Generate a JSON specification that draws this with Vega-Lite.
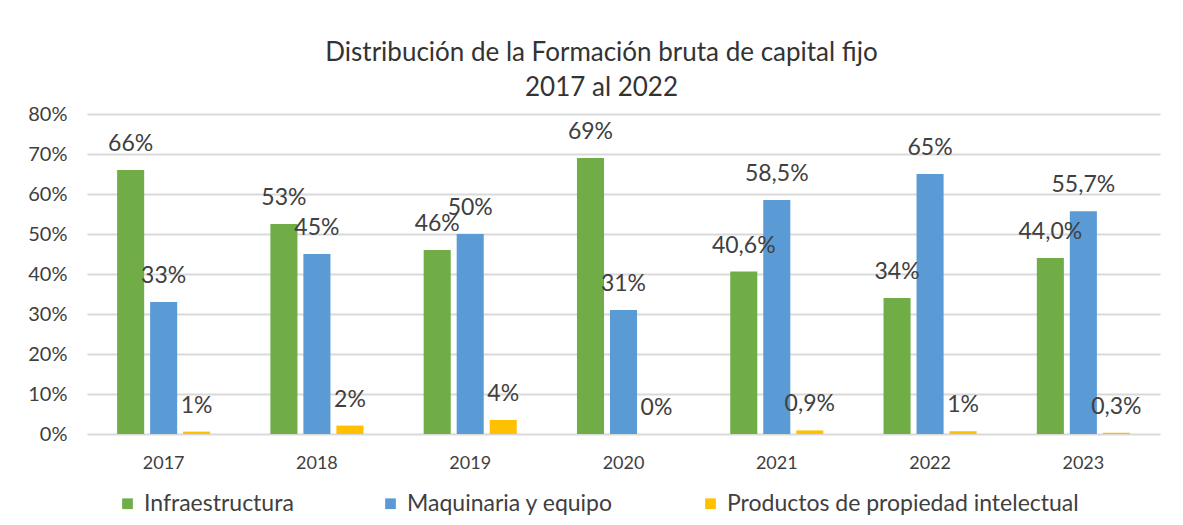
{
  "$schema": "https://vega.github.io/schema/vega-lite/v6.json",
  "width": 1073,
  "height": 320,
  "autosize": "none",
  "padding": {"left": 87, "top": 114, "right": 23, "bottom": 91},
  "background": "white",
  "title": {
    "text": ["Distribución de la Formación bruta de capital fijo", "2017 al 2022"],
    "fontSize": 26,
    "font": "Lato",
    "fontWeight": "normal",
    "color": "#333333",
    "lineHeight": 35,
    "offset": 3,
    "dx": -22
  },
  "data": {
    "values": [
      {"year": "2017", "tipo": "Infraestructura", "valor": 0.66, "label": "66%"},
      {"year": "2017", "tipo": "Maquinaria y equipo", "valor": 0.33, "label": "33%"},
      {"year": "2017", "tipo": "Productos de propiedad intelectual", "valor": 0.006, "label": "1%"},
      {"year": "2018", "tipo": "Infraestructura", "valor": 0.525, "label": "53%"},
      {"year": "2018", "tipo": "Maquinaria y equipo", "valor": 0.45, "label": "45%"},
      {"year": "2018", "tipo": "Productos de propiedad intelectual", "valor": 0.021, "label": "2%"},
      {"year": "2019", "tipo": "Infraestructura", "valor": 0.46, "label": "46%"},
      {"year": "2019", "tipo": "Maquinaria y equipo", "valor": 0.50, "label": "50%"},
      {"year": "2019", "tipo": "Productos de propiedad intelectual", "valor": 0.035, "label": "4%"},
      {"year": "2020", "tipo": "Infraestructura", "valor": 0.69, "label": "69%"},
      {"year": "2020", "tipo": "Maquinaria y equipo", "valor": 0.31, "label": "31%"},
      {"year": "2020", "tipo": "Productos de propiedad intelectual", "valor": 0.0, "label": "0%"},
      {"year": "2021", "tipo": "Infraestructura", "valor": 0.406, "label": "40,6%"},
      {"year": "2021", "tipo": "Maquinaria y equipo", "valor": 0.585, "label": "58,5%"},
      {"year": "2021", "tipo": "Productos de propiedad intelectual", "valor": 0.009, "label": "0,9%"},
      {"year": "2022", "tipo": "Infraestructura", "valor": 0.34, "label": "34%"},
      {"year": "2022", "tipo": "Maquinaria y equipo", "valor": 0.65, "label": "65%"},
      {"year": "2022", "tipo": "Productos de propiedad intelectual", "valor": 0.007, "label": "1%"},
      {"year": "2023", "tipo": "Infraestructura", "valor": 0.44, "label": "44,0%"},
      {"year": "2023", "tipo": "Maquinaria y equipo", "valor": 0.557, "label": "55,7%"},
      {"year": "2023", "tipo": "Productos de propiedad intelectual", "valor": 0.003, "label": "0,3%"}
    ]
  },
  "encoding": {
    "x": {
      "field": "year",
      "type": "nominal",
      "scale": {"paddingInner": 0.354, "paddingOuter": 0.177},
      "axis": {
        "title": null,
        "labelAngle": 0,
        "ticks": false,
        "domain": false,
        "labelFontSize": 18,
        "labelFont": "Lato",
        "labelColor": "#404040",
        "labelPadding": 20
      }
    },
    "xOffset": {
      "field": "tipo",
      "type": "nominal",
      "scale": {"paddingInner": 0.18, "paddingOuter": 0.09}
    },
    "y": {
      "field": "valor",
      "type": "quantitative",
      "scale": {"domain": [0, 0.8], "nice": false},
      "axis": {
        "title": null,
        "format": ".0%",
        "values": [0, 0.1, 0.2, 0.3, 0.4, 0.5, 0.6, 0.7, 0.8],
        "labelOverlap": false,
        "ticks": false,
        "domain": false,
        "labelFontSize": 20,
        "labelFont": "Lato",
        "labelColor": "#404040",
        "labelPadding": 20,
        "gridColor": "#d9d9d9",
        "gridWidth": 2
      }
    }
  },
  "layer": [
    {
      "mark": {"type": "bar"},
      "encoding": {
        "color": {
          "field": "tipo",
          "type": "nominal",
          "scale": {
            "domain": ["Infraestructura", "Maquinaria y equipo", "Productos de propiedad intelectual"],
            "range": ["#70AD47", "#5B9BD5", "#FFC000"]
          },
          "legend": {
            "title": null,
            "orient": "bottom",
            "direction": "horizontal",
            "symbolType": "square",
            "symbolSize": 115,
            "symbolStrokeWidth": 0,
            "labelFontSize": 23,
            "labelFont": "Lato",
            "labelColor": "#404040",
            "labelOffset": 5,
            "columnPadding": 85,
            "padding": 29,
            "offset": -9,
            "labelLimit": 500
          }
        }
      }
    },
    {
      "mark": {"type": "text", "baseline": "middle", "dy": -26, "fontSize": 23, "font": "Lato", "color": "#404040"},
      "encoding": {
        "text": {"field": "label"}
      }
    }
  ],
  "config": {
    "view": {"stroke": null}
  }
}
